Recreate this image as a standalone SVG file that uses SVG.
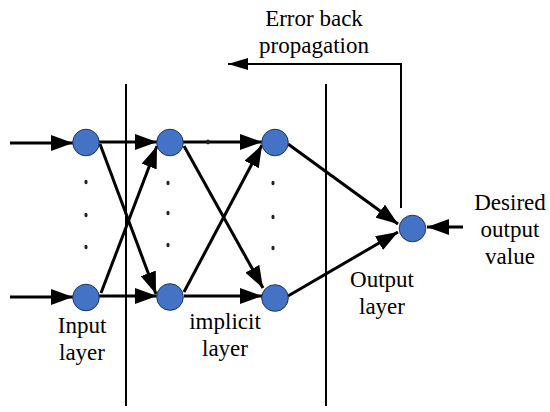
<svg xmlns="http://www.w3.org/2000/svg" width="550" height="412" viewBox="0 0 550 412">
<style>
.n{fill:#4472C4;stroke:#1F3864;stroke-width:1}
.c{stroke:#000;stroke-width:3;fill:none;marker-end:url(#ah)}
.d{stroke:#000;stroke-width:2;fill:none}
.t{font-family:"Liberation Serif","Times New Roman",serif;font-size:23px;fill:#000;text-anchor:middle}
.dot{fill:#222}
</style>
<defs>
<marker id="ah" markerUnits="userSpaceOnUse" markerWidth="22" markerHeight="16" refX="22" refY="8" orient="auto"><path d="M0,0 L22,8 L0,16 z" fill="#000"/></marker>
<marker id="ahs" markerUnits="userSpaceOnUse" markerWidth="20" markerHeight="12" refX="20" refY="6" orient="auto"><path d="M0,0 L20,6 L0,12 z" fill="#000"/></marker>
</defs>
<g id="dividers">
<line class="d" x1="126" y1="84" x2="126" y2="406"/>
<line class="d" x1="326" y1="84" x2="326" y2="406"/>
</g>
<g id="connectors">
<line class="c" x1="10" y1="143" x2="73" y2="143"/>
<line class="c" x1="10" y1="297" x2="73" y2="297"/>
<line class="c" x1="99" y1="142" x2="157" y2="142"/>
<line class="c" x1="100" y1="144" x2="156" y2="294"/>
<line class="c" x1="101" y1="293" x2="157" y2="146"/>
<line class="c" x1="99" y1="296" x2="157" y2="296"/>
<line class="c" x1="183" y1="142" x2="262" y2="142"/>
<line class="c" x1="184" y1="146" x2="263" y2="288"/>
<line class="c" x1="184" y1="292" x2="262" y2="145"/>
<line class="c" x1="184" y1="296" x2="262" y2="296"/>
<line class="c" x1="288" y1="144" x2="398" y2="224"/>
<line class="c" x1="288" y1="296" x2="398" y2="232"/>
<line class="c" x1="463" y1="227" x2="427" y2="227"/>
<polyline class="d" points="401,208 401,64 228,64" marker-end="url(#ahs)"/>
</g>
<g id="input-top"><circle class="n" cx="86" cy="142.5" r="13.3"/></g>
<g id="input-bottom"><circle class="n" cx="86" cy="297.5" r="13.3"/></g>
<g id="hidden-top"><circle class="n" cx="170" cy="142.5" r="13.3"/></g>
<g id="hidden-bottom"><circle class="n" cx="170" cy="297" r="13.3"/></g>
<g id="third-top"><circle class="n" cx="275" cy="142.5" r="13.3"/></g>
<g id="third-bottom"><circle class="n" cx="275" cy="298" r="13.3"/></g>
<g id="output"><circle class="n" cx="412.5" cy="228.5" r="13.3"/></g>
<g id="dots">
<ellipse class="dot" cx="86" cy="182" rx="1.6" ry="2.2"/>
<ellipse class="dot" cx="86" cy="215" rx="1.6" ry="2.2"/>
<ellipse class="dot" cx="86" cy="247" rx="1.6" ry="2.2"/>
<ellipse class="dot" cx="168" cy="183" rx="1.6" ry="2.2"/>
<ellipse class="dot" cx="168" cy="213" rx="1.6" ry="2.2"/>
<ellipse class="dot" cx="168" cy="245" rx="1.6" ry="2.2"/>
<ellipse class="dot" cx="273" cy="183" rx="1.6" ry="2.2"/>
<ellipse class="dot" cx="273" cy="217" rx="1.6" ry="2.2"/>
<ellipse class="dot" cx="273" cy="248" rx="1.6" ry="2.2"/>
<ellipse class="dot" cx="208" cy="142" rx="1.8" ry="2.4"/>
</g>
<g id="labels">
<text class="t" x="314" y="26">Error back</text>
<text class="t" x="314" y="53">propagation</text>
<text class="t" x="510" y="210">Desired</text>
<text class="t" x="510" y="237">output</text>
<text class="t" x="510" y="264">value</text>
<text class="t" x="382" y="287">Output</text>
<text class="t" x="382" y="314">layer</text>
<text class="t" x="82" y="333">Input</text>
<text class="t" x="82" y="360">layer</text>
<text class="t" x="225" y="329">implicit</text>
<text class="t" x="225" y="356">layer</text>
</g>
</svg>
